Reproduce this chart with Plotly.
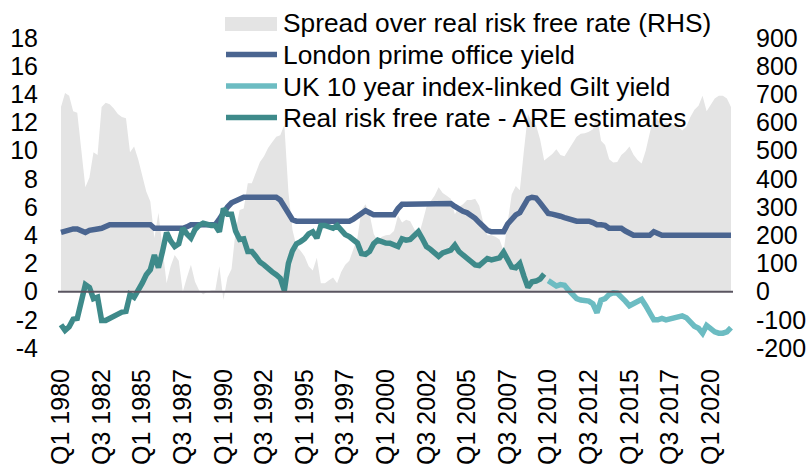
import plotly.graph_objects as go

# ---------------- data ----------------
quarters = [f"Q{q} {y}" for y in range(1980, 2022) for q in (1, 2, 3, 4)][:166]

prime_yield = [
    4.2, 4.3, 4.45, 4.45, 4.45, 4.3, 4.2, 4.35, 4.45, 4.45,
    4.5, 4.65, 4.75, 4.75, 4.75, 4.75, 4.75, 4.75, 4.75, 4.75,
    4.75, 4.75, 4.75, 4.5, 4.5, 4.5, 4.5, 4.5, 4.5, 4.5,
    4.5, 4.6, 4.75, 4.75, 4.75, 4.75, 4.75, 4.75, 4.75, 5.15,
    5.6, 6.0, 6.3, 6.45, 6.6, 6.7, 6.7, 6.7, 6.7, 6.7,
    6.7, 6.7, 6.7, 6.7, 6.5, 6.0, 5.55, 5.1, 5.0, 5.0,
    5.0, 5.0, 5.0, 5.0, 5.0, 5.0, 5.0, 5.0, 5.0, 5.0,
    5.0, 5.0, 5.15, 5.35, 5.6, 5.75, 5.6, 5.45, 5.45, 5.45,
    5.45, 5.45, 5.45, 5.9, 6.2, 6.2, 6.2, 6.2, 6.2, 6.2,
    6.2, 6.2, 6.2, 6.2, 6.25, 6.25, 6.25, 6.05, 5.85, 5.7,
    5.6, 5.45, 5.2, 4.9, 4.55, 4.35, 4.25, 4.25, 4.25, 4.25,
    4.8, 5.2, 5.45, 5.6, 6.1, 6.6, 6.7, 6.65, 6.3, 5.9,
    5.55, 5.5, 5.45, 5.35, 5.25, 5.15, 5.0, 5.0, 5.0, 5.0,
    5.0, 4.9, 4.75, 4.75, 4.7, 4.5, 4.5, 4.5, 4.5, 4.3,
    4.15, 4.0, 4.0, 4.0, 4.0, 4.0, 4.25, 4.1, 4.0, 4.0,
    4.0, 4.0, 4.0, 4.0, 4.0, 4.0, 4.0, 4.0, 4.0, 4.0,
    4.0, 4.0, 4.0, 4.0, 4.0, 4.0,
]

real_rate_are = [
    -2.35, -2.75, -2.5, -1.95, -1.9, -0.7, 0.5, 0.3, -0.5, -0.4,
    -2.05, -2.05, -1.9, -1.75, -1.55, -1.45, -1.4, -0.2, -0.4, 0.05,
    0.6, 1.2, 1.55, 2.6, 1.7, 2.85, 4.2, 3.6, 3.2, 3.4,
    4.5, 4.1, 3.8, 4.4, 4.7, 4.85, 4.75, 4.7, 4.7, 4.25,
    5.9, 5.5, 5.5, 4.3, 3.7, 3.75, 2.85, 2.85, 2.5, 2.1,
    1.9, 1.6, 1.4, 1.2, 0.95, 0.08, 2.0, 2.9, 3.4, 3.55,
    3.75, 4.1, 4.25, 3.8, 4.7, 4.7, 4.6, 4.5, 4.7, 4.3,
    4.05, 3.9, 3.65, 3.45, 2.7, 2.65, 2.85, 3.4, 3.65, 3.5,
    3.45, 3.43, 3.3, 3.2, 3.75, 3.65, 3.7, 4.0, 4.25, 3.75,
    3.2, 3.0, 2.8, 2.5, 2.75, 2.85, 2.95, 3.3, 2.85, 2.6,
    2.35, 2.2, 1.9, 1.85, 2.1, 2.35, 2.25, 2.3, 2.4, 2.8,
    2.3, 1.75, 1.7, 2.0, 1.1, 0.3, 0.7, 0.75, 0.9, 1.25,
]

gilt_yield = [
    0.78, 0.62, 0.4, 0.5, 0.45, 0.1, -0.25, -0.5, -0.6, -0.62,
    -0.67, -0.86, -1.5, -0.6, -0.5, -0.2, -0.08, -0.1, -0.35, -0.67,
    -1.0, -0.86, -0.67, -0.55, -1.0, -1.6, -2.0, -2.0, -1.9, -2.0,
    -1.95, -1.9, -1.85, -1.72, -1.85, -2.2, -2.45, -2.6, -2.95, -2.4,
    -2.65, -2.85, -2.95, -2.95, -2.85, -2.55,
]

spread_bps = [
    655, 705, 695, 640, 635, 500, 370, 405, 495, 485,
    655, 670, 665, 650, 630, 620, 615, 495, 515, 470,
    415, 355, 320, 190, 280, 165, 30, 90, 130, 110,
    0, 50, 95, 35, 5, -10, 0, 5, 5, 90,
    -30, 50, 80, 215, 290, 295, 385, 385, 420, 460,
    480, 510, 530, 550, 555, 592, 355, 220, 160, 145,
    125, 90, 75, 120, 30, 30, 40, 50, 30, 70,
    95, 110, 150, 190, 290, 310, 275, 205, 180, 195,
    200, 202, 215, 270, 245, 255, 250, 220, 195, 245,
    300, 320, 340, 370, 350, 340, 330, 275, 300, 310,
    325, 325, 330, 305, 245, 200, 200, 195, 185, 145,
    250, 345, 375, 360, 500, 630, 600, 590, 540, 465,
    477, 488, 505, 485, 480, 505, 525, 550, 560, 562,
    567, 576, 625, 535, 520, 470, 458, 460, 485, 497,
    515, 486, 467, 455, 500, 560, 625, 610, 590, 600,
    595, 590, 585, 572, 585, 620, 645, 660, 695, 640,
    665, 685, 695, 695, 685, 655,
]

x_tick_labels = ["Q1 1980", "Q3 1982", "Q1 1985", "Q3 1987", "Q1 1990", "Q3 1992",
                 "Q1 1995", "Q3 1997", "Q1 2000", "Q3 2002", "Q1 2005", "Q3 2007",
                 "Q1 2010", "Q3 2012", "Q1 2015", "Q3 2017", "Q1 2020"]
left_tick_vals = [-4, -2, 0, 2, 4, 6, 8, 10, 12, 14, 16, 18]
left_tick_text = ["-4", "-2", "0", "2", "4", "6", "8", "10", "12", "14", "16", "18"]
right_tick_vals = [-200, -100, 0, 100, 200, 300, 400, 500, 600, 700, 800, 900]
right_tick_text = ["-200", "-100", "0", "100", "200", "300", "400", "500", "600", "700", "800", "900"]

series_names = ["Spread over real risk free rate (RHS)", "London prime office yield",
                "UK 10 year index-linked Gilt yield", "Real risk free rate - ARE estimates"]

# ---------------- styles ----------------
FONT = "Liberation Sans, Arial, sans-serif"
C_AREA = "#E4E4E4"
C_PRIME = "#4A6590"
C_GILT = "#6CBCC2"
C_ARE = "#3E8A8A"
C_ZERO = "#5A5560"
LW = 5.5

fig = go.Figure()
fig.add_trace(go.Scatter(x=quarters, y=spread_bps, yaxis="y2", mode="lines",
                         fill="tozeroy", fillcolor=C_AREA, line=dict(width=0, color=C_AREA),
                         name=series_names[0], showlegend=False, hoverinfo="skip"))
fig.add_trace(go.Scatter(x=quarters, y=prime_yield, yaxis="y", mode="lines",
                         line=dict(color=C_PRIME, width=LW), name=series_names[1], showlegend=False))
fig.add_trace(go.Scatter(x=quarters[len(real_rate_are):], y=gilt_yield, yaxis="y", mode="lines",
                         line=dict(color=C_GILT, width=LW), name=series_names[2], showlegend=False))
fig.add_trace(go.Scatter(x=quarters[:len(real_rate_are)], y=real_rate_are, yaxis="y", mode="lines",
                         line=dict(color=C_ARE, width=LW), name=series_names[3], showlegend=False))

# zero axis line
fig.add_shape(type="line", xref="paper", x0=0, x1=1, yref="y", y0=0, y1=0,
              line=dict(color=C_ZERO, width=2), layer="above")

# manual legend (pixel positions converted to paper coords)
L, T, PW, PH = 58, 38, 675, 310
def px(x): return (x - L) / PW
def py(y): return (T + PH - y) / PH

fig.add_shape(type="rect", xref="paper", yref="paper", x0=px(225), x1=px(277),
              y0=py(31), y1=py(17), fillcolor=C_AREA, line=dict(width=0))
for yy, col in [(54.5, C_PRIME), (86, C_GILT), (117.5, C_ARE)]:
    fig.add_shape(type="line", xref="paper", yref="paper", x0=px(226), x1=px(277),
                  y0=py(yy), y1=py(yy), line=dict(color=col, width=LW))
for yy, name in zip([23.5, 55, 86.5, 117.5], series_names):
    fig.add_annotation(x=px(281), y=py(yy), xref="paper", yref="paper", text=name,
                       showarrow=False, xanchor="left", yanchor="middle",
                       font=dict(family=FONT, size=26.3, color="black"))

fig.update_layout(
    width=809, height=464,
    margin=dict(l=L, r=809 - L - PW, t=T, b=464 - T - PH, autoexpand=False),
    paper_bgcolor="white", plot_bgcolor="rgba(0,0,0,0)",
    font=dict(family=FONT, size=25, color="black"),
    showlegend=False,
    xaxis=dict(type="category", categoryorder="array", categoryarray=quarters,
               range=[-0.74, 165.5], tickmode="array", tickvals=x_tick_labels,
               ticktext=x_tick_labels, tickangle=-90, showgrid=False, zeroline=False,
               showline=False, ticks="outside", ticklen=10, tickcolor="rgba(0,0,0,0)",
               tickfont=dict(size=25), automargin=False),
    yaxis=dict(range=[-4, 18], tickmode="array", tickvals=left_tick_vals, ticktext=left_tick_text,
               side="left", overlaying="y2", showgrid=False, zeroline=False, showline=False,
               ticks="outside", ticklen=14, tickcolor="rgba(0,0,0,0)", tickfont=dict(size=25),
               automargin=False),
    yaxis2=dict(range=[-200, 900], tickmode="array", tickvals=right_tick_vals,
                ticktext=right_tick_text, side="right", anchor="x", showgrid=False,
                zeroline=False, showline=False, ticks="outside", ticklen=17,
                tickcolor="rgba(0,0,0,0)", tickfont=dict(size=25), automargin=False),
)

fig.write_html(
    "out.html",
    config={"displayModeBar": False},
    post_script="document.body.style.margin='0';document.body.style.overflow='hidden';",
)
